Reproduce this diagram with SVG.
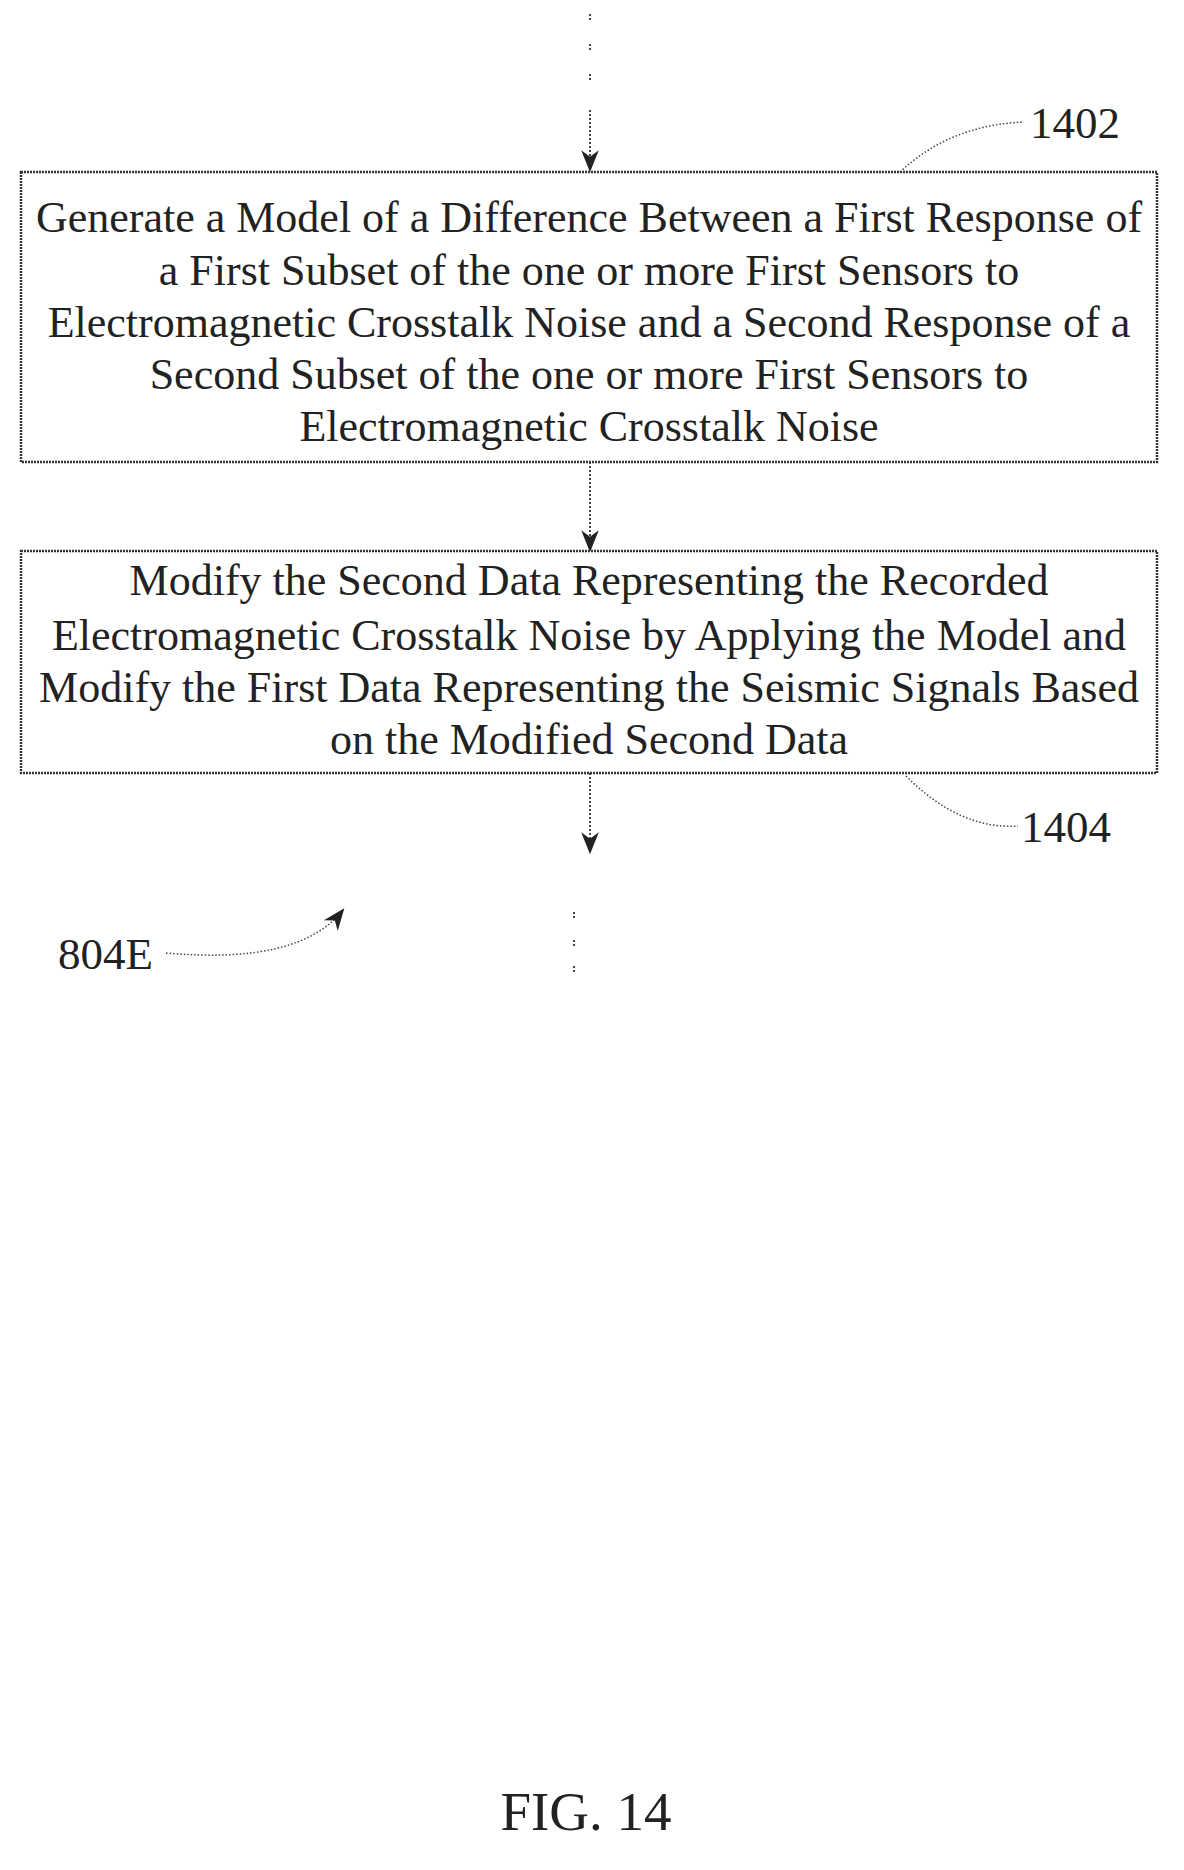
<svg xmlns="http://www.w3.org/2000/svg" width="1184" height="1870" viewBox="0 0 1184 1870">
<defs>
<style>
text{font-family:"Liberation Serif",serif;fill:#222;text-anchor:middle}
.b{font-size:44px}
.l{font-size:45px;text-anchor:start}
.box{fill:#fff;stroke:#333;stroke-width:2.5;stroke-dasharray:2 1}
.c{fill:none;stroke:#444;stroke-width:2;stroke-dasharray:2 2}
.d{fill:none;stroke:#444;stroke-width:1.5;stroke-dasharray:1.5 2}
</style>
<marker id="ah" viewBox="0 0 10 10" refX="9" refY="5" markerWidth="22" markerHeight="22" orient="auto" markerUnits="userSpaceOnUse"><path d="M0,1L10,5L0,9L3,5z" fill="#222"/></marker>
</defs>
<rect width="1184" height="1870" fill="#fff"/>
<g id="connectors">
<path class="c" d="M590,14v8M590,44v8M590,74v8"/>
<path class="c" d="M590,110V170" marker-end="url(#ah)"/>
<path class="c" d="M590,462V550" marker-end="url(#ah)"/>
<path class="c" d="M590,773V852" marker-end="url(#ah)"/>
<path class="c" d="M574,912v8M574,940v8M574,966v8"/>
<path class="d" d="M900,172Q950,125 1024,122"/>
<path class="d" d="M906,776Q960,830 1018,826"/>
<path class="d" d="M166,953Q300,965 343,910" marker-end="url(#ah)"/>
</g>
<g id="n1402">
<rect class="box" x="21" y="172" width="1136" height="290"/>
<text class="b" x="589" y="232">Generate a Model of a Difference Between a First Response of</text>
<text class="b" x="589" y="285">a First Subset of the one or more First Sensors to</text>
<text class="b" x="589" y="337">Electromagnetic Crosstalk Noise and a Second Response of a</text>
<text class="b" x="589" y="389">Second Subset of the one or more First Sensors to</text>
<text class="b" x="589" y="441">Electromagnetic Crosstalk Noise</text>
</g>
<g id="n1404">
<rect class="box" x="21" y="551" width="1136" height="222"/>
<text class="b" x="589" y="595">Modify the Second Data Representing the Recorded</text>
<text class="b" x="589" y="650">Electromagnetic Crosstalk Noise by Applying the Model and</text>
<text class="b" x="589" y="702">Modify the First Data Representing the Seismic Signals Based</text>
<text class="b" x="589" y="754">on the Modified Second Data</text>
</g>
<g id="labels">
<text class="l" x="1030" y="138">1402</text>
<text class="l" x="1021" y="842">1404</text>
<text class="l" x="58" y="969">804E</text>
<text x="586" y="1830" style="font-size:55px">FIG. 14</text>
</g>
</svg>
